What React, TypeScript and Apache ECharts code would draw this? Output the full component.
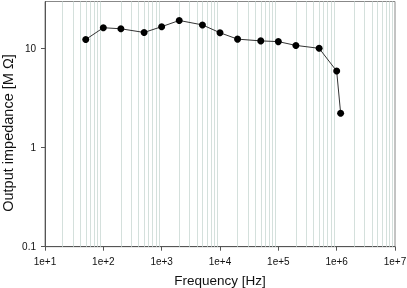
import React, { useEffect, useRef } from "react";
import * as echarts from "echarts";

const frequencies = [50, 100, 200, 500, 1000, 2000, 5000, 1e4, 2e4, 5e4, 1e5, 2e5, 5e5, 1e6, 1.17e6];
const impedance = [12.4, 16.3, 15.9, 14.6, 16.7, 19.3, 17.4, 14.5, 12.5, 12.0, 11.8, 10.8, 10.1, 5.95, 2.23];
const xTicks = [1e1, 1e2, 1e3, 1e4, 1e5, 1e6, 1e7];
const yTicks = [0.1, 1, 10];
const gridDecades = [1e1, 1e2, 1e3, 1e4, 1e5, 1e6];
const gridMultipliers = [2, 3, 4, 5, 6, 7, 8, 9];

export default function App() {
  const ref = useRef<HTMLDivElement>(null);
  useEffect(() => {
    if (!ref.current) return;
    const chart = echarts.init(ref.current, null, { renderer: "svg" });
    const gridLines: { xAxis: number }[] = [];
    gridDecades.forEach((d) => gridMultipliers.forEach((m) => gridLines.push({ xAxis: d * m })));
    const font = "'Liberation Sans', Arial, sans-serif";
    chart.setOption({
      animation: false,
      grid: {
        left: 45,
        right: 12,
        top: 1.5,
        bottom: 41.3,
        show: true,
        borderColor: "#888",
        borderWidth: 1,
        containLabel: false,
        outerBoundsMode: "none",
      },
      graphic: [
        {
          type: "text",
          x: 7.5,
          y: 133,
          rotation: Math.PI / 2,
          style: {
            text: "Output impedance [M \u03A9]",
            fontFamily: font,
            fontSize: 14.5,
            fill: "#111",
            align: "center",
            verticalAlign: "middle",
          },
        },
      ],
      xAxis: {
        type: "log",
        logBase: 10,
        min: 10,
        max: 1e7,
        name: "Frequency [Hz]",
        nameLocation: "middle",
        nameGap: 27,
        nameTextStyle: { fontFamily: font, fontSize: 13.5, color: "#111" },
        axisLine: { show: true, lineStyle: { color: "#555", width: 1 } },
        axisTick: { show: true, length: 4, customValues: xTicks, lineStyle: { color: "#555" } },
        axisLabel: {
          customValues: xTicks,
          margin: 10,
          fontFamily: font,
          fontSize: 10,
          color: "#111",
          formatter: (v: number) => "1e+" + Math.round(Math.log10(v)),
        },
        splitLine: { show: false },
      },
      yAxis: {
        type: "log",
        logBase: 10,
        min: 0.1,
        max: 30,
        axisLine: { show: true, lineStyle: { color: "#555", width: 1 } },
        axisTick: { show: true, length: 4, customValues: yTicks, lineStyle: { color: "#555" } },
        axisLabel: {
          customValues: yTicks,
          margin: 9,
          fontFamily: font,
          fontSize: 10,
          color: "#111",
          formatter: (v: number) => String(v),
        },
        splitLine: { show: false },
      },
      series: [
        {
          type: "line",
          data: frequencies.map((f, i) => [f, impedance[i]]),
          symbol: "circle",
          symbolSize: 7,
          itemStyle: { color: "#000" },
          lineStyle: { color: "#333", width: 1 },
          z: 5,
          markLine: {
            silent: true,
            symbol: "none",
            label: { show: false },
            lineStyle: { color: "#d4e0dc", width: 1, type: "solid" },
            data: gridLines,
            z: 1,
          },
        },
      ],
    });
    return () => chart.dispose();
  }, []);
  return (
    <div
      ref={ref}
      style={{ position: "fixed", left: 0, top: 0, width: 407, height: 288 }}
    />
  );
}
